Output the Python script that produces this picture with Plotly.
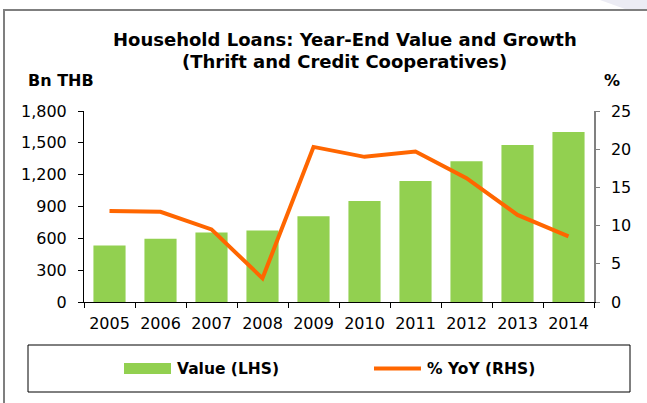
import plotly.graph_objects as go

years = ["2005", "2006", "2007", "2008", "2009", "2010", "2011", "2012", "2013", "2014"]
value_bn_thb = [533, 597, 654, 673, 809, 952, 1140, 1327, 1479, 1603]
yoy_pct = [11.9, 11.8, 9.5, 3.1, 20.3, 19.0, 19.7, 16.2, 11.4, 8.6]

left_ticks = [0, 300, 600, 900, 1200, 1500, 1800]
right_ticks = [0, 5, 10, 15, 20, 25]

GREEN = "#92D050"
ORANGE = "#FF6600"
FONT = "DejaVu Sans"

W, H = 647, 403
L, R, T, B = 84, 594, 111, 302


def px(x):
    return (x - L) / (R - L)


def py(y):
    return (B - y) / (B - T)


fig = go.Figure()
fig.add_trace(go.Bar(x=years, y=value_bn_thb, name="Value (LHS)",
                     marker=dict(color=GREEN, line=dict(width=0)), yaxis="y"))
fig.add_trace(go.Scatter(x=years, y=yoy_pct, name="% YoY (RHS)", mode="lines",
                         line=dict(color=ORANGE, width=4), yaxis="y2"))

blob = "M {},{} L {},{} L {},{} L {},{} Z".format(px(600), py(0), px(647), py(0),
                                                  px(647), py(9), px(625), py(9))

shapes = [
    # faint decoration in the top-right corner
    dict(type="path", xref="paper", yref="paper", path=blob,
         fillcolor="#ECECF4", line=dict(width=0), layer="below"),
    # outer frame
    dict(type="rect", xref="paper", yref="paper", x0=px(4), y0=py(10), x1=px(720), y1=py(520),
         line=dict(color="#7F7F7F", width=2), layer="below"),
    # legend box
    dict(type="rect", xref="paper", yref="paper", x0=px(28), y0=py(345), x1=px(630), y1=py(392),
         line=dict(color="#000000", width=1)),
    dict(type="rect", xref="paper", yref="paper", x0=px(124), y0=py(363), x1=px(171), y1=py(374),
         fillcolor=GREEN, line=dict(width=0)),
    dict(type="line", xref="paper", yref="paper", x0=px(374), y0=py(368.5), x1=px(421), y1=py(368.5),
         line=dict(color=ORANGE, width=4)),
]

annotations = [
    dict(text="<b>Household Loans: Year-End Value and Growth</b>", x=px(344.5), y=py(39),
         xref="paper", yref="paper", xanchor="center", yanchor="middle", showarrow=False,
         font=dict(family=FONT, size=18, color="#000")),
    dict(text="<b>(Thrift and Credit Cooperatives)</b>", x=px(344.5), y=py(61),
         xref="paper", yref="paper", xanchor="center", yanchor="middle", showarrow=False,
         font=dict(family=FONT, size=18, color="#000")),
    dict(text="<b>Bn THB</b>", x=px(26), y=py(80), xref="paper", yref="paper",
         xanchor="left", yanchor="middle", showarrow=False,
         font=dict(family=FONT, size=16, color="#000")),
    dict(text="<b>%</b>", x=px(612), y=py(81), xref="paper", yref="paper",
         xanchor="center", yanchor="middle", showarrow=False,
         font=dict(family=FONT, size=16, color="#000")),
    dict(text="<b>Value (LHS)</b>", x=px(175), y=py(369), xref="paper", yref="paper",
         xanchor="left", yanchor="middle", showarrow=False,
         font=dict(family=FONT, size=15.5, color="#000")),
    dict(text="<b>% YoY (RHS)</b>", x=px(425), y=py(369), xref="paper", yref="paper",
         xanchor="left", yanchor="middle", showarrow=False,
         font=dict(family=FONT, size=15.5, color="#000")),
]

fig.update_layout(
    width=W, height=H,
    margin=dict(l=L, r=W - R, t=T, b=H - B, autoexpand=False),
    paper_bgcolor="white", plot_bgcolor="white",
    showlegend=False,
    bargap=0.37,
    font=dict(family=FONT, size=16, color="#000"),
    xaxis=dict(type="category", showline=True, linecolor="#000", linewidth=1,
               ticks="outside", ticklen=5, tickcolor="#000", tickson="boundaries",
               showgrid=False, ticklabelstandoff=7,
               tickfont=dict(family=FONT, size=16, color="#000")),
    yaxis=dict(range=[0, 1800], tickvals=left_ticks, tickformat=",d", showline=True,
               linecolor="#000", linewidth=1, ticks="outside", ticklen=5, tickcolor="#000",
               showgrid=False, zeroline=False, ticklabelstandoff=8,
               tickfont=dict(family=FONT, size=16, color="#000")),
    yaxis2=dict(range=[0, 25], tickvals=right_ticks, overlaying="y", side="right",
                showline=True, linecolor="#808080", linewidth=1.5, ticks="outside", ticklen=4,
                tickcolor="#808080", showgrid=False, zeroline=False, ticklabelstandoff=8,
                tickfont=dict(family=FONT, size=16, color="#000")),
    shapes=shapes,
    annotations=annotations,
)

fig.write_html("out.html", config={"displayModeBar": False},
               post_script="document.body.style.margin='0';document.body.style.overflow='hidden';")
